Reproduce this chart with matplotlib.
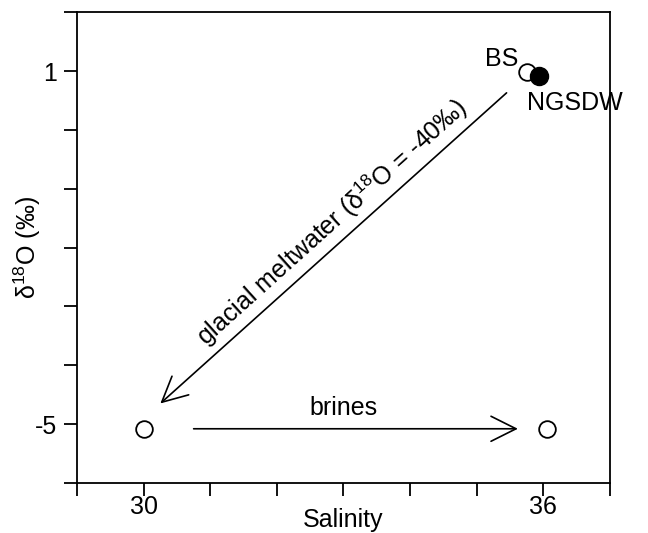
import matplotlib
matplotlib.use("Agg")
import matplotlib.pyplot as plt

plt.rcParams['font.family'] = ['Liberation Sans', 'DejaVu Sans']
plt.rcParams['mathtext.fontset'] = 'custom'
plt.rcParams['mathtext.rm'] = 'Liberation Sans'
plt.rcParams['mathtext.it'] = 'Liberation Sans:italic'

# end members (salinity, d18O)
open_sal = [35.75, 30.0, 36.05]
open_d18o = [0.98, -5.08, -5.08]
ngsdw_sal = [35.93]
ngsdw_d18o = [0.92]

# arrows: (start, end)
melt_start = (35.45, 0.63)
melt_end = (30.25, -4.65)
brine_start = (30.75, -5.08)
brine_end = (35.62, -5.08)

xticks = list(range(29, 38))
yticks = list(range(-6, 3))
xticklabels = ['' if t not in (30, 36) else str(t) for t in xticks]
yticklabels = ['' if t not in (1, -5) else str(t) for t in yticks]

FS = 18

fig = plt.figure(figsize=(6.48, 5.33), dpi=100)
ax = fig.add_axes([0.119, 0.094, 0.822, 0.883])

ax.plot(open_sal, open_d18o, 'o', ms=12, mfc='white', mec='black', mew=1.3, zorder=3)
ax.plot(ngsdw_sal, ngsdw_d18o, 'o', ms=13, mfc='black', mec='black', zorder=4)

ax.text(35.63, 1.2, 'BS', fontsize=FS, ha='right', va='center')
ax.text(35.76, 0.46, 'NGSDW', fontsize=FS, ha='left', va='center')

arrow_style = dict(arrowstyle='->,head_length=1.8,head_width=0.9', color='black', lw=1.2,
                   shrinkA=0, shrinkB=0, mutation_scale=10)
ax.annotate('', xy=melt_end, xytext=melt_start, arrowprops=arrow_style)
ax.annotate('', xy=brine_end, xytext=brine_start, arrowprops=arrow_style)

ax.text(33.0, -4.73, 'brines', fontsize=FS, ha='center', va='center')
ax.text(32.83, -1.56, 'glacial meltwater (δ$^{18}$O = -40‰)', fontsize=FS,
        ha='center', va='center', rotation=42, rotation_mode='anchor')

ax.set_xlim(29, 37)
ax.set_ylim(-6, 2)
ax.set_xticks(xticks)
ax.set_xticklabels(xticklabels)
ax.set_yticks(yticks)
ax.set_yticklabels(yticklabels)
ax.tick_params(direction='out', length=9.5, width=1.3, labelsize=FS)
ax.tick_params(axis='x', pad=-1)
ax.tick_params(axis='y', pad=5)
for s in ax.spines.values():
    s.set_linewidth(1.3)

ax.set_xlabel('Salinity', fontsize=FS, labelpad=-8)
ax.set_ylabel('δ$^{18}$O (‰)', fontsize=FS, labelpad=-6)

fig.savefig('out.png', dpi=100)
